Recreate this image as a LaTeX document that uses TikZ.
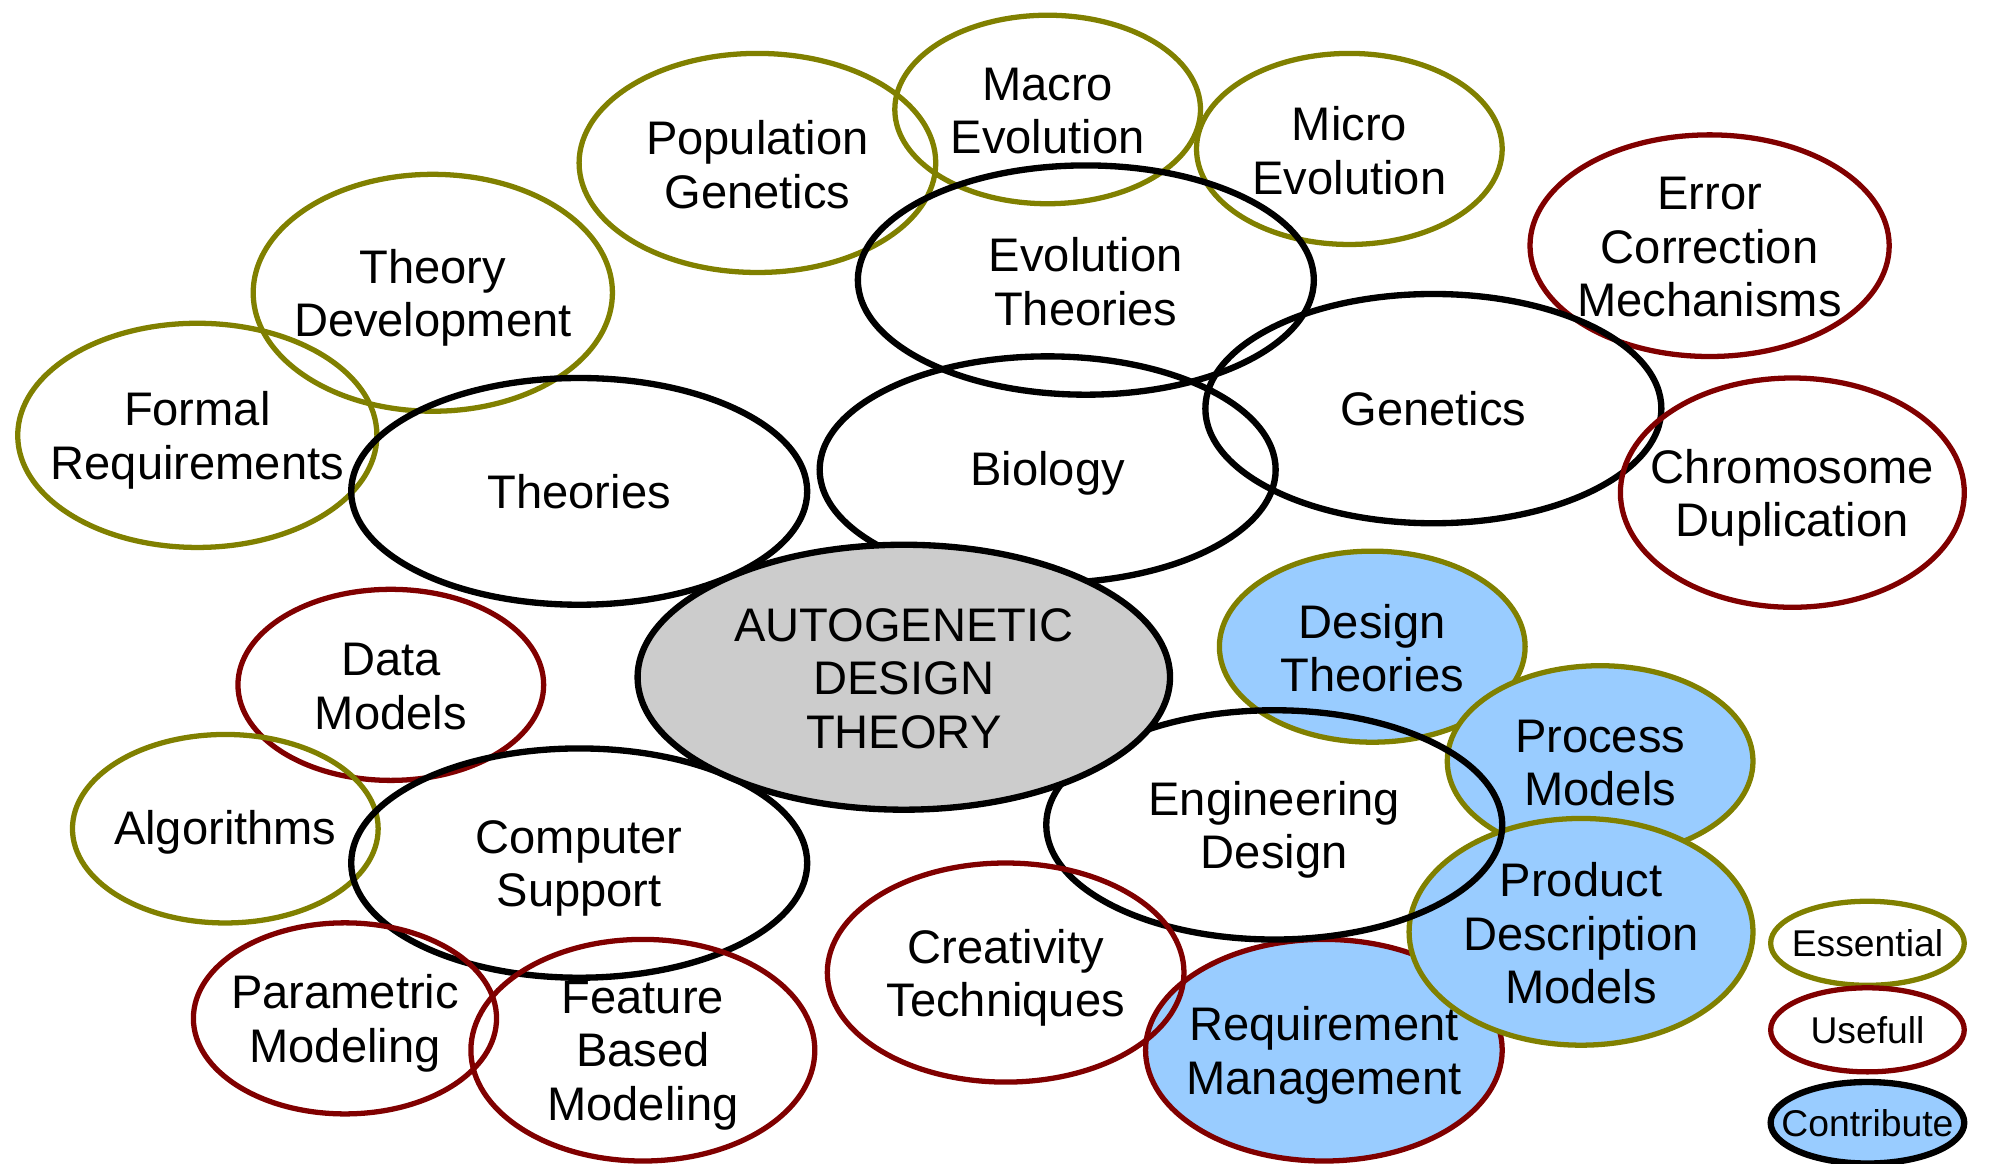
\documentclass[tikz,border=0pt]{standalone}
\usepackage{fontspec}
\setmainfont{Liberation Sans}
\usetikzlibrary{shapes.geometric}
\definecolor{ess}{HTML}{808000}
\definecolor{use}{HTML}{800000}
\definecolor{contr}{HTML}{99CCFF}
\definecolor{core}{HTML}{CCCCCC}
\newcommand{\mystrut}{\rule[-0.162em]{0pt}{1.04em}}
\begin{document}
\begin{tikzpicture}[x=0.01273cm,y=-0.01273cm,
  bub/.style={ellipse, inner sep=0pt},
  essential/.style={bub, draw=ess, line width=1.5pt},
  useful/.style={bub, draw=use, line width=1.5pt},
  blackb/.style={bub, draw=black, line width=1.8pt},
  contrib/.style={fill=contr},
  sz/.style 2 args={minimum width=#1*0.02546cm, minimum height=#2*0.02546cm},
  lbl/.style={align=center, inner sep=0pt, font=\fontsize{13.4}{15.2}\selectfont,
    execute at begin node=\mystrut, execute at end node=\mystrut},
  leglbl/.style={lbl, font=\fontsize{10.6}{12}\selectfont},
  txt/.style={label={[lbl]center:{#1}}},
  txtm/.style={label={[lbl, yshift=-1.45pt]center:{#1}}},
  legtxt/.style={label={[leglbl]center:{#1}}}
]
\useasboundingbox (0,0) rectangle (1568,914);
% contributing (filled) bubbles
\node[essential, contrib, sz={120}{75}, txtm={Design\\Theories}] (dt) at (1078,508) {};
\node[essential, contrib, sz={120}{75}, txtm={Process\\Models}] (pm) at (1257,598) {};
\node[useful, contrib, sz={140}{87}, txtm={Requirement\\Management}] (rm) at (1040,825) {};
\node[essential, contrib, sz={135}{89}, txtm={Product\\Description\\Models}] (pdm) at (1242,732) {};
% outline bubbles
\node[essential, sz={140}{86}, txtm={Population\\Genetics}] (popgen) at (595,128) {};
\node[essential, sz={120}{74}, txtm={Macro\\Evolution}] (macro) at (823,86) {};
\node[essential, sz={120}{75}, txtm={Micro\\Evolution}] (micro) at (1060,117) {};
\node[blackb, sz={179}{90}, txtm={Evolution\\Theories}] (evo) at (853,220) {};
\node[useful, sz={141}{87}, txtm={Error\\Correction\\Mechanisms}] (err) at (1343,193) {};
\node[essential, sz={141}{93}, txtm={Theory\\Development}] (thdev) at (340,230) {};
\node[essential, sz={141}{88}, txtm={Formal\\Requirements}] (formal) at (155,342) {};
\node[blackb, sz={179}{89}, txt={Theories}] (theories) at (455,386) {};
\node[blackb, sz={179}{89}, txt={Biology}] (bio) at (823,369) {};
\node[blackb, sz={179}{90}, txt={Genetics}] (gen) at (1126,321) {};
\node[useful, sz={135}{90}, txtm={Chromosome\\Duplication}] (chrom) at (1408,387) {};
\node[useful, sz={120}{75}, txtm={Data\\Models}] (data) at (307,538) {};
\node[blackb, sz={179}{90}, txtm={Engineering\\Design}] (eng) at (1001,648) {};
\node[essential, sz={120}{74}, txt={Algorithms}] (algo) at (177,651) {};
\node[blackb, sz={179}{90}, txtm={Computer\\Support}] (comp) at (455,678) {};
\node[useful, sz={140}{86}, txtm={Creativity\\Techniques}] (creat) at (790,764) {};
\node[useful, sz={119}{75}, txtm={Parametric\\Modeling}] (param) at (271,800) {};
\node[useful, sz={135}{87}, txtm={Feature\\Based\\Modeling}] (feat) at (505,825) {};
% core
\node[blackb, fill=core, sz={209}{104}, txtm={AUTOGENETIC\\DESIGN\\THEORY}] (adt) at (710,532) {};
% legend
\node[essential, sz={76}{33}, legtxt={Essential}] (lgess) at (1467,741) {};
\node[useful, sz={76}{33}, legtxt={Usefull}] (lguse) at (1467,809) {};
\node[blackb, contrib, sz={76}{32}, legtxt={Contribute}] (lgcon) at (1467,882) {};
\end{tikzpicture}
\end{document}
